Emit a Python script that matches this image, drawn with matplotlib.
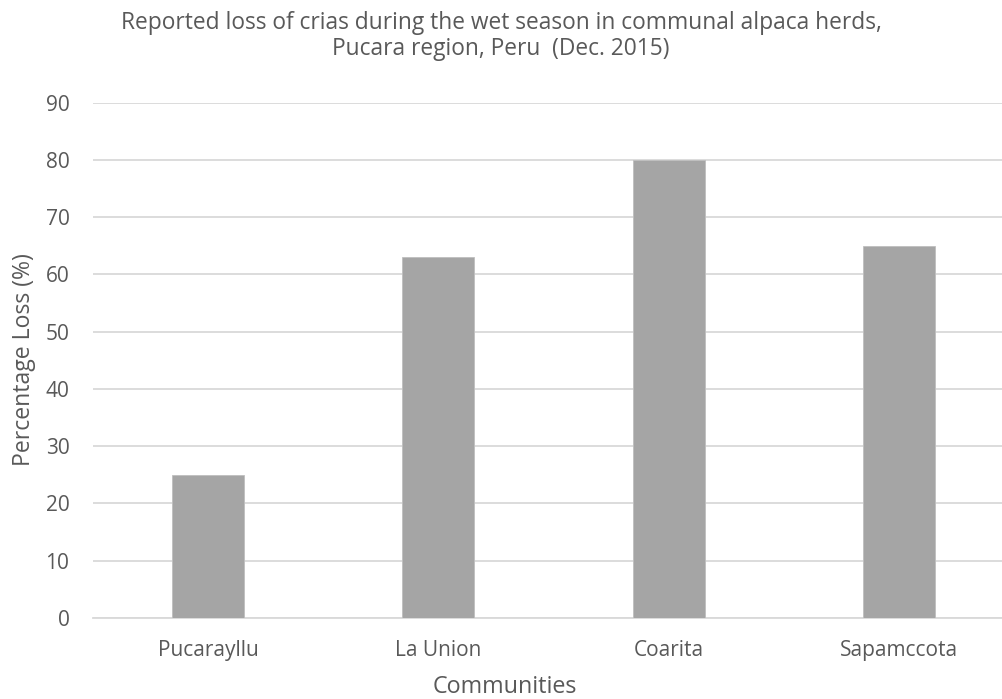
import matplotlib
matplotlib.use('Agg')
from matplotlib import pyplot as plt

communities = ['Pucarayllu', 'La Union', 'Coarita', 'Sapamccota']
loss_pct = [25, 63, 80, 65]
yticks = [0, 10, 20, 30, 40, 50, 60, 70, 80, 90]

txt = '#595959'
plt.rcParams['font.family'] = ['Open Sans', 'DejaVu Sans']

fig = plt.figure(figsize=(10.03, 6.99), dpi=100)
# plot area runs a little past the right edge, like the cropped original
ax = fig.add_axes([93 / 1003, 81 / 699, 921 / 1003, 515.3 / 699])

x = range(len(communities))
ax.bar(x, loss_pct, width=0.313, color='#A5A5A5', edgecolor='#BFBFBF', linewidth=0.6, zorder=3)

ax.set_xlim(-0.5, 3.5)
ax.set_ylim(0, 90)
ax.set_yticks(yticks)
ax.set_xticks(list(x))
ax.set_xticklabels(communities)
ax.grid(True, axis='y', color='#D9D9D9', linewidth=1.3, zorder=0)
for s in ['top', 'right', 'left']:
    ax.spines[s].set_visible(False)
ax.spines['bottom'].set_color('#D9D9D9')
ax.spines['bottom'].set_linewidth(1.3)
ax.tick_params(axis='both', length=0, colors=txt, labelsize=15)
ax.tick_params(axis='y', pad=17)
ax.tick_params(axis='x', pad=16)

fig.text(505 / 1003, 1 - 687 / 699, 'Communities', color=txt, fontsize=16.8,
         ha='center', va='center')
fig.text(24 / 1003, 1 - 360 / 699, 'Percentage Loss (%)', color=txt, fontsize=16.6,
         rotation=90, ha='center', va='center')

fig.text(501 / 1003, 1 - 23 / 699, 'Reported loss of crias during the wet season in communal alpaca herds,',
         color=txt, fontsize=16.4, ha='center', va='center')
fig.text(501 / 1003, 1 - 49 / 699, 'Pucara region, Peru  (Dec. 2015)',
         color=txt, fontsize=16.4, ha='center', va='center')

fig.savefig('out.png', dpi=100)
